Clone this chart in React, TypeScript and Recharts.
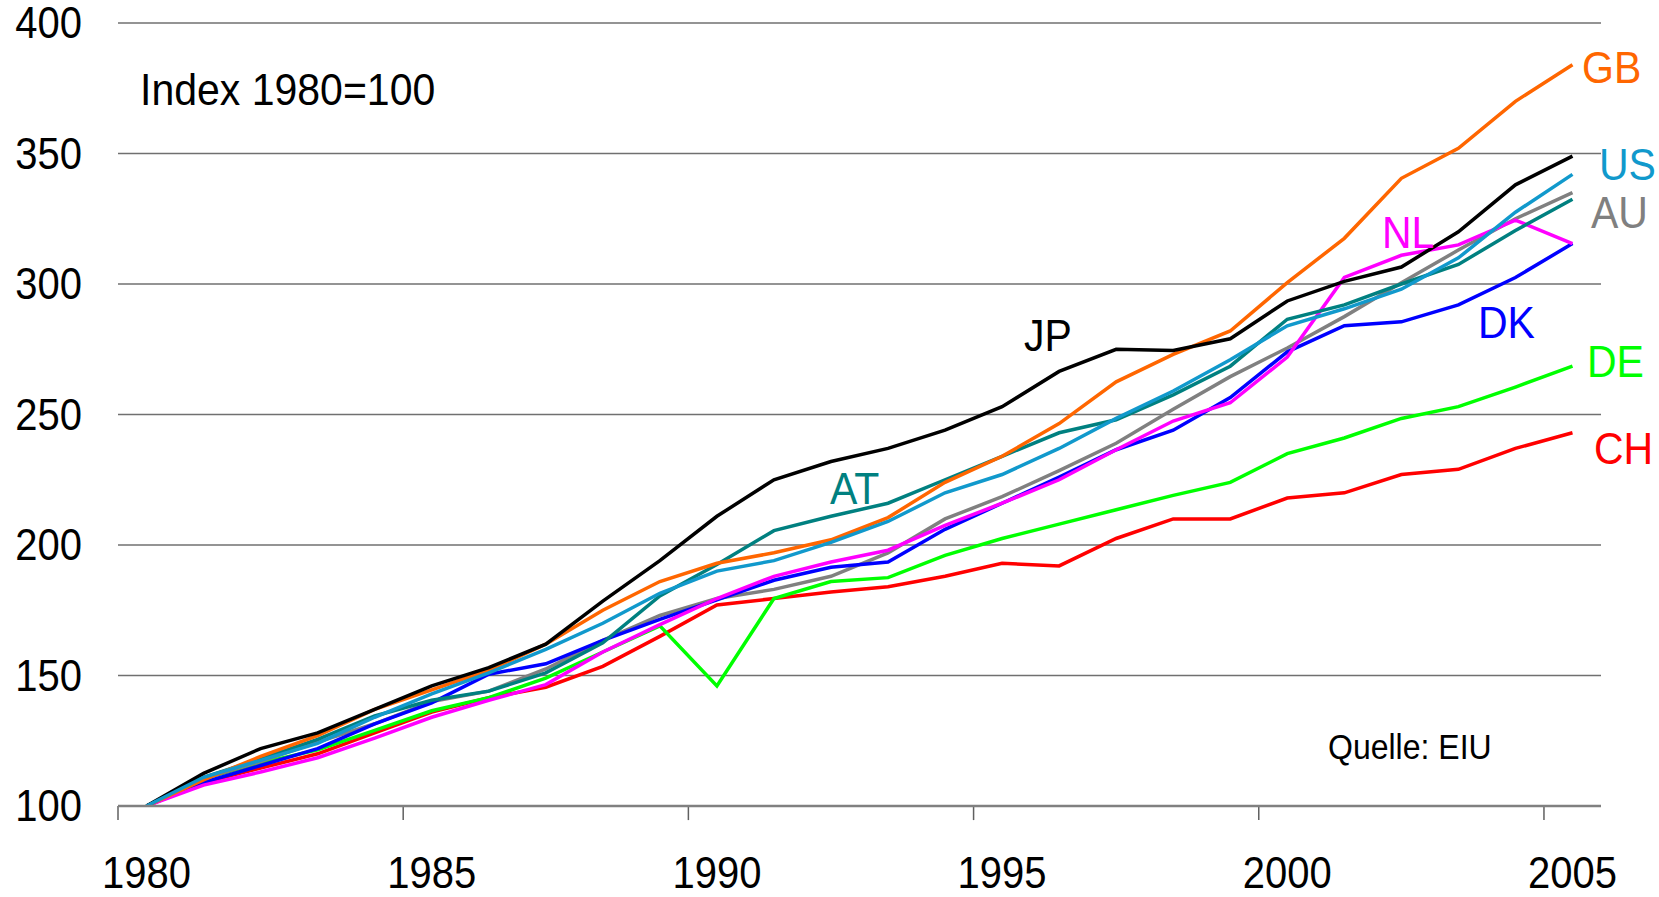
import { CartesianGrid, Line, LineChart, ReferenceLine, XAxis, YAxis } from "recharts";

const years = [
  1980, 1981, 1982, 1983, 1984, 1985, 1986, 1987, 1988, 1989, 1990, 1991, 1992,
  1993, 1994, 1995, 1996, 1997, 1998, 1999, 2000, 2001, 2002, 2003, 2004, 2005,
];

const jp = [100, 112.5, 122, 128, 137, 146, 153, 162, 178.5, 194, 211, 225, 232, 237, 244, 253, 266.5, 275, 274.5, 279, 293.5, 301, 306.5, 320, 338, 349];
const gb = [100, 110, 119, 127, 137, 144.5, 152, 162, 175, 186, 193, 197, 202, 210.5, 224, 234, 246.5, 262.5, 273, 282, 300.5, 317.5, 340.5, 352, 370, 384];
const us = [100, 111, 117.5, 124, 134, 143, 151, 160, 170, 181.5, 190, 194, 201, 209, 220, 227, 237, 248.5, 259, 271, 284, 290.5, 298, 310, 327.5, 342];
const au = [100, 110.5, 117, 124.5, 131.5, 140, 144, 152.5, 163.5, 173, 179.5, 183, 188, 197, 210, 218.5, 228.5, 239, 252, 264.5, 275.5, 287.5, 300.5, 313, 325, 335];
const at = [100, 111, 118, 125.5, 134.5, 140.5, 144, 151, 162.5, 180.5, 192.5, 205.5, 211, 216, 225, 234, 243, 248, 257.5, 268.5, 286.5, 292, 300, 307.5, 320.5, 332.5];
const nl = [100, 108, 113, 118.5, 126, 134, 140.5, 146.5, 159, 169.5, 179.5, 188, 193.5, 198, 207.5, 216, 225, 236.5, 247.5, 254.5, 272, 302.5, 311, 315, 324.5, 315.5];
const dk = [100, 109, 115.5, 122, 131.5, 139.5, 150.5, 154.5, 163.5, 171.5, 179, 186.5, 191.5, 193.5, 206, 216, 226, 236.5, 244, 256.5, 274, 284, 285.5, 292, 302.5, 315.5];
const de = [100, 110.5, 116.5, 121.5, 129, 136.5, 141.5, 149, 159, 169, 146, 179.5, 186, 187.5, 196, 202.5, 208, 213.5, 219, 224, 235, 241, 248.5, 253, 260.5, 268.5];
const ch = [100, 109, 114.5, 120, 128, 136, 141.5, 145.5, 153.5, 165, 177, 179.5, 182, 184, 188, 193, 192, 202.5, 210, 210, 218, 220, 227, 229, 237, 243];

const yTicks = [100, 150, 200, 250, 300, 350, 400];
const xLabelTicks = [1980, 1985, 1990, 1995, 2000, 2005];
// category boundaries where the small tick marks hang below the axis
const xMarkTicks = [1979.5, 1984.5, 1989.5, 1994.5, 1999.5, 2004.5];

const data = years.map((year, i) => ({
  year,
  JP: jp[i],
  GB: gb[i],
  US: us[i],
  AU: au[i],
  AT: at[i],
  NL: nl[i],
  DK: dk[i],
  DE: de[i],
  CH: ch[i],
}));

// drawing order: last one ends up on top
const series = [
  { key: "CH", color: "#ff0000" },
  { key: "DE", color: "#00ff00" },
  { key: "AU", color: "#808080" },
  { key: "DK", color: "#0000ff" },
  { key: "NL", color: "#ff00ff" },
  { key: "AT", color: "#008080" },
  { key: "GB", color: "#ff6600" },
  { key: "JP", color: "#000000" },
  { key: "US", color: "#1199cc" },
];

const labels = [
  { text: "Index 1980=100", color: "#000", left: 140, cy: 90, size: 41 },
  { text: "GB", color: "#ff6600", left: 1582, cy: 68, size: 41 },
  { text: "US", color: "#1199cc", left: 1599, cy: 165, size: 41 },
  { text: "AU", color: "#808080", left: 1591, cy: 213, size: 41 },
  { text: "NL", color: "#ff00ff", left: 1382, cy: 233, size: 41 },
  { text: "DK", color: "#0000ff", left: 1478, cy: 323, size: 41 },
  { text: "DE", color: "#00ff00", left: 1587, cy: 362, size: 41 },
  { text: "CH", color: "#ff0000", left: 1594, cy: 449, size: 41 },
  { text: "JP", color: "#000", left: 1024, cy: 336, size: 41 },
  { text: "AT", color: "#008080", left: 830, cy: 489, size: 41 },
  { text: "Quelle: EIU", color: "#000", left: 1328, cy: 747, size: 32 },
];

const FONT = "'Liberation Sans', Arial, sans-serif";

const YTick = ({ x, y, payload }: any) => (
  <g transform={`translate(${x},${y}) scale(1,1.1)`}>
    <text x={0} y={0} textAnchor="end" dominantBaseline="central" fontSize={40} fontFamily={FONT} fill="#000">
      {payload.value}
    </text>
  </g>
);

const XTick = ({ x, y, payload }: any) => (
  <g transform={`translate(${x},${y + 67}) scale(1,1.1)`}>
    <text x={0} y={0} textAnchor="middle" dominantBaseline="central" fontSize={40} fontFamily={FONT} fill="#000">
      {payload.value}
    </text>
  </g>
);

export default function App() {
  return (
    <div style={{ position: "absolute", left: 0, top: 0, width: 1659, height: 897, background: "#fff" }}>
      <LineChart width={1659} height={897} data={data} margin={{ top: 23, right: 58, bottom: 0, left: 0 }}>
        <CartesianGrid vertical={false} stroke="#707070" strokeWidth={1.5} />
        <XAxis
          type="number"
          dataKey="year"
          domain={[1979.5, 2005.5]}
          ticks={xLabelTicks}
          height={91}
          tickSize={0}
          tickMargin={0}
          tickLine={false}
          axisLine={{ stroke: "#808080", strokeWidth: 2.5 }}
          tick={<XTick />}
        />
        <YAxis
          domain={[100, 400]}
          ticks={yTicks}
          width={118}
          axisLine={false}
          tickLine={false}
          tickSize={0}
          tickMargin={36}
          tick={<YTick />}
          allowDataOverflow
        />
        {xMarkTicks.map((t) => (
          <ReferenceLine
            key={t}
            segment={[
              { x: t, y: 100 },
              { x: t, y: 94.6 },
            ]}
            stroke="#606060"
            strokeWidth={1.5}
            ifOverflow="visible"
          />
        ))}
        {series.map((s) => (
          <Line
            key={s.key}
            type="linear"
            dataKey={s.key}
            stroke={s.color}
            strokeWidth={3.5}
            dot={false}
            isAnimationActive={false}
          />
        ))}
      </LineChart>
      {labels.map((l) => (
        <div
          key={l.text}
          style={{
            position: "absolute",
            left: l.left,
            top: l.cy,
            transform: "translateY(-50%) scaleY(1.08)",
            color: l.color,
            fontSize: l.size,
            fontFamily: FONT,
            lineHeight: 1,
            whiteSpace: "nowrap",
          }}
        >
          {l.text}
        </div>
      ))}
    </div>
  );
}
